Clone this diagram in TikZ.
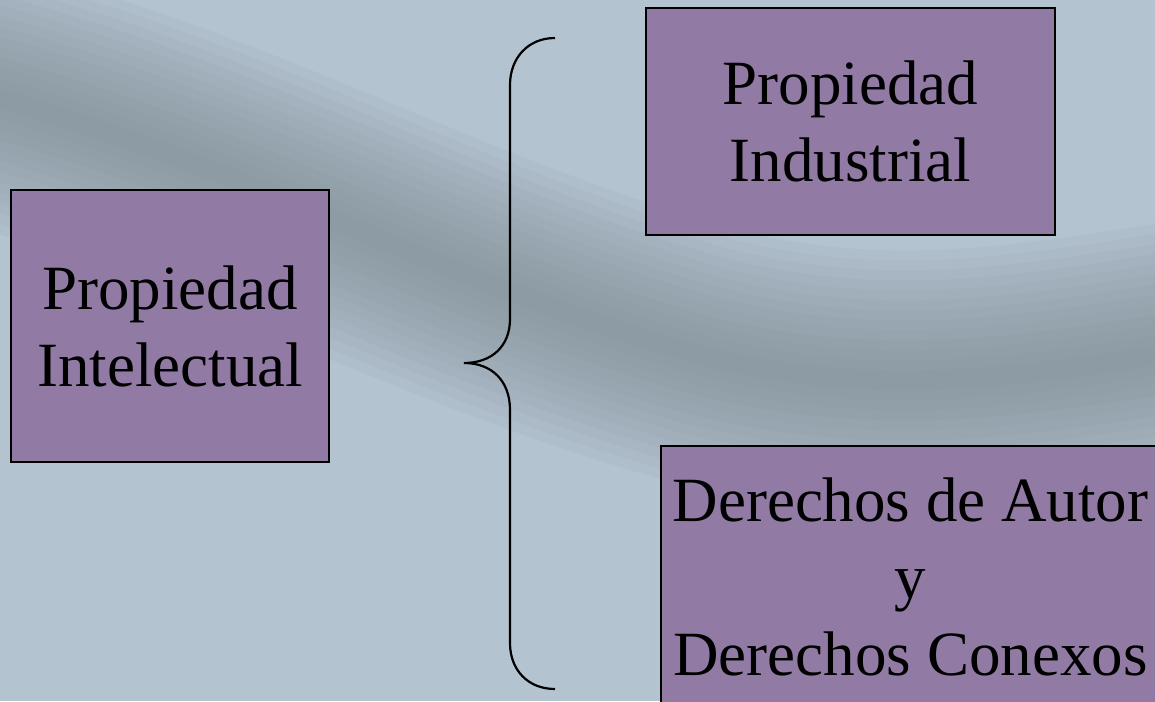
\documentclass[tikz,border=0pt]{standalone}
\usepackage{fontspec}
\setmainfont{Liberation Serif}
\definecolor{bgbase}{HTML}{B3C3D0}
\definecolor{bgdark}{HTML}{7E8C91}
\definecolor{boxfill}{HTML}{917BA5}
\begin{document}
\begin{tikzpicture}[x=1pt,y=-1pt,
  box/.style={draw=black, line width=1.5pt, fill=boxfill, align=center, inner sep=0pt,
              font=\fontsize{63}{77}\selectfont},
  bracepath/.style={draw=black, line width=2.2pt},
  bandlayer/.style={draw=bgdark, draw opacity=0.075, line cap=butt}]
\useasboundingbox (0,0) rectangle (1155,701);
\begin{scope}
  \clip (0,0) rectangle (1155,701);
  \fill[bgbase] (0,0) rectangle (1155,701);
  \foreach \w in {260,240,...,20}{
    \draw[bandlayer, line width=\w pt]
      (-120,70) .. controls (200,135) and (400,270) .. (700,355)
      .. controls (900,405) and (1050,372) .. (1280,335);
  }

  \node[box, minimum width=318pt, minimum height=272pt] (pi) at (170,326) {Propiedad\\Intelectual};
  \node[box, minimum width=409pt, minimum height=227pt] (pind) at (850.5,121.5) {Propiedad\\Industrial};
  \node[box, minimum width=499pt, minimum height=261pt] (da) at (910.5,576.5) {Derechos de Autor\\y\\Derechos Conexos};

  \coordinate (bt) at (555,38);
  \coordinate (bm) at (464,363);
  \coordinate (bb) at (555,689);
  \draw[bracepath] (bt) .. controls (528,38) and (510,58) .. (510,85) -- (510,319)
     .. controls (510,346) and (492,363) .. (bm)
     .. controls (492,363) and (510,381) .. (510,410) -- (510,643)
     .. controls (510,670) and (528,689) .. (bb);
\end{scope}
\end{tikzpicture}
\end{document}
